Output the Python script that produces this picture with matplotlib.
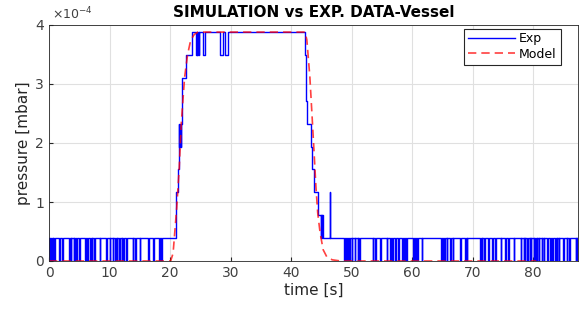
import os

os.environ.setdefault("MPLBACKEND", "Agg")

import matplotlib.pyplot as plt
import numpy as np
from matplotlib.ticker import FuncFormatter

# sensor quantisation step [mbar] and sample period [s]
Q = 0.388e-4
DT = 0.1
T_END = 87.4

# times where the baseline reading (1 count) drops to 0 for one sample
dips_pre = [0.0, 0.17, 0.4, 0.6, 0.9, 1.7, 2.15, 3.3, 3.6, 4.1, 4.3, 4.5, 5.0,
            5.95, 6.3, 6.8, 7.05, 7.5, 8.4, 9.4, 10.0, 10.5, 10.9, 11.2, 11.6,
            12.0, 12.3, 12.8, 13.8, 14.2, 15.0, 16.4, 17.2, 18.2, 18.35, 18.5]

# pressure rise: time [s] and level [counts]
up_t = [21.0, 21.3, 21.4, 21.5, 21.55, 21.6, 21.65, 21.7, 21.75, 21.8, 22.0,
        22.6, 23.6, 24.3, 24.4, 24.5, 24.6, 24.7, 24.85, 25.4, 25.85, 28.3,
        28.7, 29.1, 29.6]
up_lvl = [3, 4, 5, 6, 5, 6, 5, 6, 5, 6, 8, 9, 10, 9, 10, 9, 10, 9, 10, 9, 10,
          9, 10, 9, 10]

# pressure drop
down_t = [42.3, 42.5, 42.7, 43.3, 43.5, 43.85, 44.5, 44.9, 44.95, 45.05,
          45.1, 45.2, 46.4, 46.5]
down_lvl = [9, 7, 6, 5, 4, 3, 2, 1, 2, 1, 2, 1, 3, 1]

dips_post = [48.8, 49.1, 49.4, 49.6, 50.0, 50.5, 51.0, 51.3, 53.5, 53.9,
             54.7, 55.8, 56.4, 56.7, 57.2, 57.7, 58.4, 58.7, 59.0, 60.2,
             60.5, 60.8, 61.6, 64.8, 65.0, 65.3, 65.7, 66.3, 66.7, 67.9,
             68.8, 69.0, 71.2, 71.5, 71.9, 72.6, 73.2, 73.7, 74.6, 75.4,
             75.9, 76.8, 77.9, 78.4, 78.6, 79.0, 79.4, 79.6, 80.1, 80.3,
             80.6, 80.9, 81.4, 81.7, 82.3, 82.8, 83.1, 83.6, 83.9, 84.2,
             85.0, 85.5, 85.9, 87.0, 87.2]

# simulated curve [x1e-4 mbar]
model_t = [0, 20.1, 20.5, 21.1, 21.5, 21.85, 22.4, 22.9, 23.4, 24.0, 24.6,
           42.3, 42.6, 43.1, 43.5, 43.8, 44.1, 44.4, 44.8, 45.3, 45.9, 46.8,
           48.2, 80.5]
model_p = [0, 0, 0.13, 0.9, 1.55, 2.33, 3.11, 3.5, 3.74, 3.84, 3.88, 3.88,
           3.75, 3.12, 2.39, 1.83, 1.26, 0.81, 0.47, 0.19, 0.07, 0.02, 0, 0]


def add_dips(t, lvl, dips):
    for x in dips:
        t += [x, x + DT]
        lvl += [0, 1]


def build_exp():
    t, lvl = [0.0], [1]
    add_dips(t, lvl, dips_pre)
    t += up_t + down_t
    lvl += up_lvl + down_lvl
    add_dips(t, lvl, dips_post)
    t.append(T_END)
    lvl.append(lvl[-1])
    return np.array(t), np.array(lvl) * Q


def main():
    exp_t, exp_p = build_exp()
    fig = plt.figure(figsize=(5.79, 3.09), dpi=100)
    ax = fig.add_axes([49 / 579, 48 / 309, 529 / 579, 236 / 309])

    gray = "#262626"
    ax.plot(exp_t, exp_p, color="blue", lw=1.0, drawstyle="steps-post", label="Exp")
    ax.plot(model_t, np.array(model_p) * 1e-4, color="red", lw=1.2, ls=(0, (5, 3)),
            alpha=0.75, label="Model")

    ax.set_xlim(0, T_END)
    ax.set_ylim(0, 4e-4)
    ax.set_xticks(np.arange(0, 81, 10))
    ax.set_yticks(np.arange(0, 4.1e-4, 1e-4))
    ax.yaxis.set_major_formatter(FuncFormatter(lambda v, _: f"{v / 1e-4:g}"))
    ax.grid(True, color="#e0e0e0", lw=0.8)
    ax.set_axisbelow(True)
    ax.tick_params(direction="in", length=3, labelsize=10, colors=gray, labelcolor="#404040")
    for s in ax.spines.values():
        s.set_color(gray)
        s.set_linewidth(0.6)

    ax.text(0.005, 1.01, r"$\times10^{-4}$", transform=ax.transAxes, ha="left",
            va="bottom", fontsize=9, color="#404040")
    ax.set_title("SIMULATION vs EXP. DATA-Vessel", fontsize=11, fontweight="bold",
                 pad=6)
    ax.set_xlabel("time [s]", fontsize=11, color="#262626", labelpad=2)
    ax.set_ylabel("pressure [mbar]", fontsize=11, color="#262626", labelpad=3)

    leg = ax.legend(loc="upper right", bbox_to_anchor=(0.967, 0.985), fontsize=9,
                    fancybox=False, framealpha=1, borderpad=0.3, labelspacing=0.2,
                    handlelength=3.8, handletextpad=0.3, borderaxespad=0)
    leg.get_frame().set_edgecolor(gray)
    leg.get_frame().set_linewidth(0.8)

    fig.savefig("out.png", dpi=100)
    plt.close(fig)


if __name__ == "__main__":
    main()
